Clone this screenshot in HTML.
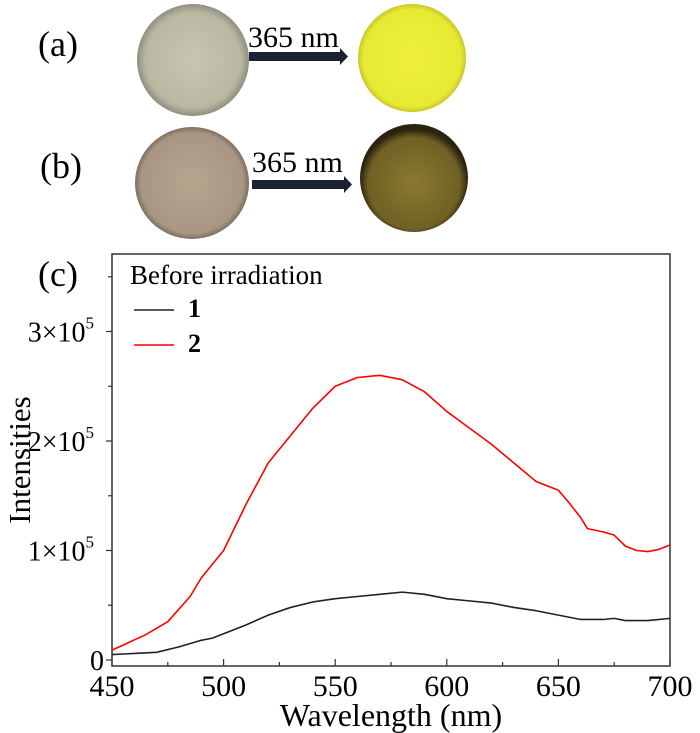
<!DOCTYPE html>
<html><head><meta charset="utf-8"><style>
body{margin:0;background:#fff;}
svg{display:block;font-family:"Liberation Serif",serif;}
</style></head><body>
<svg width="700" height="733" viewBox="0 0 700 733">
<defs>
<radialGradient id="ga" cx="50%" cy="50%" r="50%"><stop offset="0" stop-color="#c9c6b0"/><stop offset="0.85" stop-color="#b9b8a2"/><stop offset="1" stop-color="#8f8f80"/></radialGradient>
<radialGradient id="gy" cx="50%" cy="50%" r="50%"><stop offset="0" stop-color="#eef03a"/><stop offset="0.9" stop-color="#e7ea32"/><stop offset="1" stop-color="#c9c82a"/></radialGradient>
<radialGradient id="gb" cx="50%" cy="50%" r="50%"><stop offset="0" stop-color="#b8a590"/><stop offset="0.9" stop-color="#a89683"/><stop offset="1" stop-color="#7d6f60"/></radialGradient>
<radialGradient id="gd" cx="50%" cy="55%" r="50%"><stop offset="0" stop-color="#8a7a30"/><stop offset="0.85" stop-color="#6f6024"/><stop offset="1" stop-color="#2c2410"/></radialGradient>
</defs>
<text x="38" y="56" font-size="36">(a)</text>
<ellipse cx="193" cy="60" rx="56" ry="56" fill="url(#ga)"/>
<text x="248" y="47" font-size="30">365 nm</text>
<rect x="249" y="52" width="92" height="9" fill="#1c2233"/>
<polygon points="340,48 348,56.5 340,65" fill="#1c2233"/>
<ellipse cx="412" cy="58" rx="54" ry="54" fill="url(#gy)"/>
<text x="40" y="178" font-size="36">(b)</text>
<ellipse cx="192" cy="183" rx="57" ry="56" fill="url(#gb)"/>
<text x="252" y="172" font-size="30">365 nm</text>
<rect x="252" y="180" width="93" height="9" fill="#1c2233"/>
<polygon points="344,176 352,184.5 344,193" fill="#1c2233"/>
<ellipse cx="414" cy="178" rx="54" ry="54" fill="url(#gd)"/>
<g id="chart"></g>
</svg>
<script>
const wl1=[450,470,480,490,495,500,510,520,530,540,550,560,570,580,590,600,610,620,630,640,650,660,670,675,680,690,700];
const s1=[0.05,0.07,0.12,0.18,0.2,0.24,0.32,0.41,0.48,0.53,0.56,0.58,0.6,0.62,0.6,0.56,0.54,0.52,0.48,0.45,0.41,0.37,0.37,0.38,0.36,0.36,0.38];
const wl2=[450,465,475,485,490,500,510,520,530,540,550,560,570,580,590,600,610,620,630,640,650,655,660,663,670,675,680,685,690,695,700];
const s2=[0.09,0.23,0.35,0.58,0.75,1.0,1.42,1.8,2.05,2.3,2.5,2.58,2.6,2.56,2.45,2.27,2.12,1.97,1.8,1.63,1.55,1.43,1.3,1.2,1.17,1.14,1.04,1.0,0.99,1.01,1.05];
const xTicks=[450,500,550,600,650,700];
const yTicks=[0,1,2,3];
const yLabels=["0","1×10","2×10","3×10"];
const NS="http://www.w3.org/2000/svg";
const L=112,R=670,T=254,B=666;
const X=v=>L+(v-450)/250*(R-L);
const Y=v=>660-v*109.5;
const g=document.getElementById('chart');
function mk(t,a,p){const e=document.createElementNS(NS,t);for(const k in a)e.setAttribute(k,a[k]);(p||g).appendChild(e);return e;}
const box=mk('rect',{x:L,y:T,width:R-L,height:B-T,fill:'none',stroke:'#333','stroke-width':1.5});


for(let v=450;v<=700;v+=25){const t=mk('line',{x1:X(v),x2:X(v),y1:B,y2:B-(v%50==0?7:4),stroke:'#333','stroke-width':1.2});

}
xTicks.forEach(v=>{const t=mk('text',{x:X(v),y:B+30,'font-size':30,'text-anchor':'middle'});t.textContent=v;

});
for(let v=0;v<=3.5;v+=0.5){const t=mk('line',{x1:L,x2:L-(v%1==0?6:4),y1:Y(v),y2:Y(v),stroke:'#333','stroke-width':1.2});

}
yTicks.forEach((v,i)=>{const t=mk('text',{x:L-8,y:Y(v)+10,'font-size':28,'text-anchor':'end'});
if(v===0){t.textContent=yLabels[i];}else{t.textContent=yLabels[i];const s=mk('tspan',{dy:-13,'font-size':17},t);s.textContent='5';t.setAttribute('x',L-18);}

});
function line(xs,ys,c,n){const p=mk('polyline',{points:xs.map((x,i)=>X(x)+','+Y(ys[i])).join(' '),fill:'none',stroke:c,'stroke-width':1.6,'stroke-linejoin':'round'});

}
line(wl1,s1,'#222','series-1-line');
line(wl2,s2,'#f00','series-2-line');
const xt=mk('text',{x:X(575),y:B+60,'font-size':32,'text-anchor':'middle'});xt.textContent='Wavelength (nm)';


const yt=mk('text',{x:0,y:0,'font-size':31,'text-anchor':'middle',transform:'translate(30,460) rotate(-90)'});yt.textContent='Intensities';


const lc=mk('text',{x:38,y:286,'font-size':36});lc.textContent='(c)';


const lt=mk('text',{x:130,y:284,'font-size':27});lt.textContent='Before irradiation';


[['#222','1',323],['#f00','2',358]].forEach(([c,n,yy])=>{
const l=mk('line',{x1:134,x2:174,y1:yy-18+5,y2:yy-18+5,stroke:c,'stroke-width':1.6});


const t=mk('text',{x:188,y:yy-6,'font-size':26,'font-weight':'bold'});t.textContent=n;

});
</script>
</body></html>
